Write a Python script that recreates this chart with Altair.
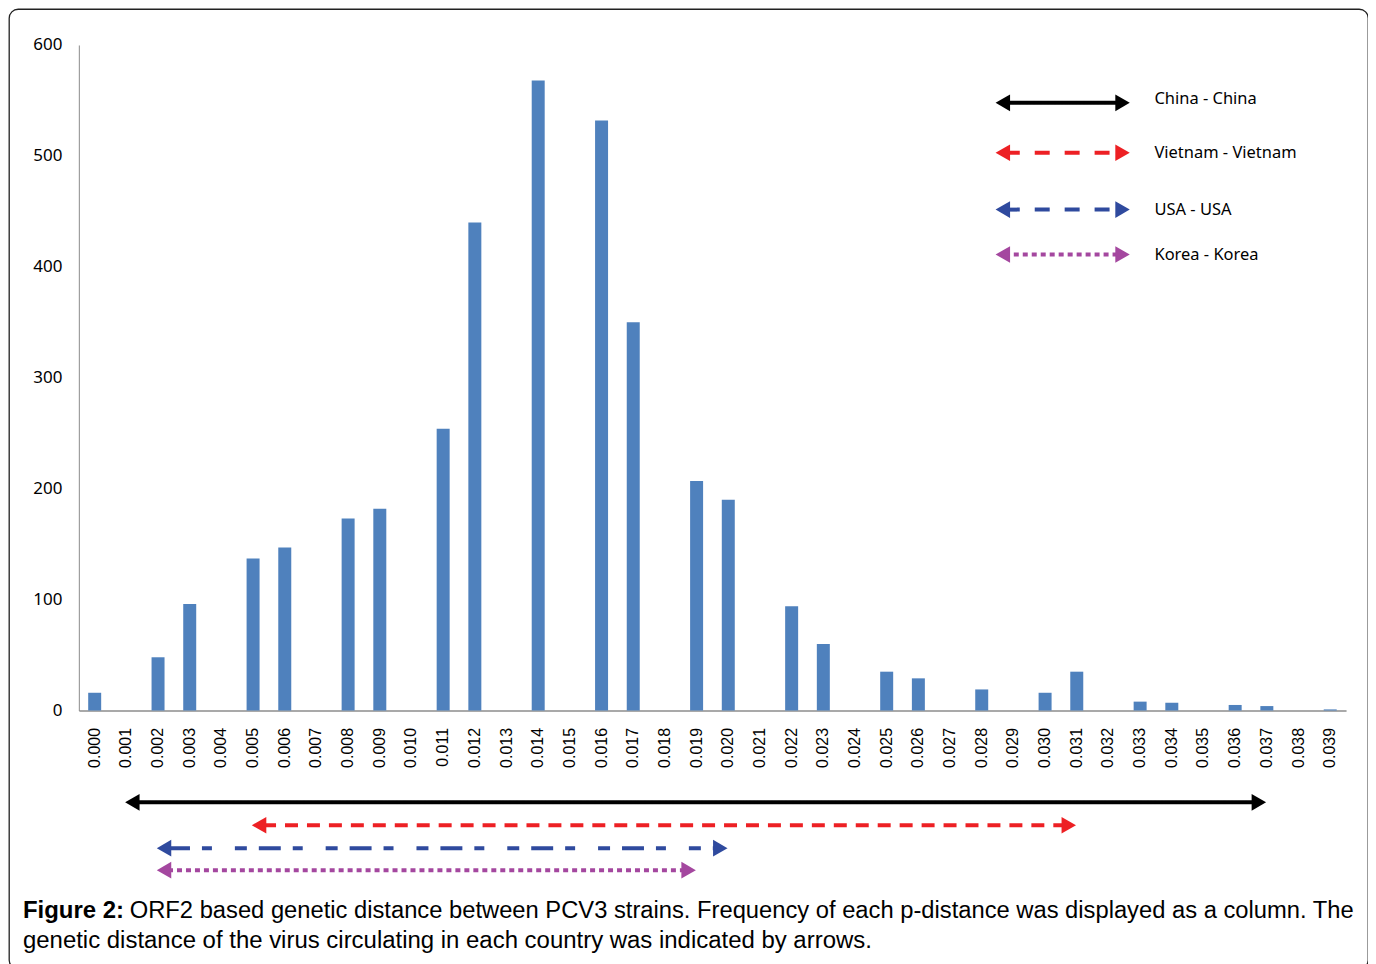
import altair as alt
import pandas as pd

# ---------------- data ----------------
categories = ["0.000", "0.001", "0.002", "0.003", "0.004", "0.005", "0.006", "0.007",
              "0.008", "0.009", "0.010", "0.011", "0.012", "0.013", "0.014", "0.015",
              "0.016", "0.017", "0.018", "0.019", "0.020", "0.021", "0.022", "0.023",
              "0.024", "0.025", "0.026", "0.027", "0.028", "0.029", "0.030", "0.031",
              "0.032", "0.033", "0.034", "0.035", "0.036", "0.037", "0.038", "0.039"]
frequency = [16, 0, 48, 96, 0, 137, 147, 0, 173, 182, 0, 254, 440, 0, 568, 0,
             532, 350, 0, 207, 190, 0, 94, 60, 0, 35, 29, 0, 19, 0, 16, 35,
             0, 8, 7, 0, 5, 4, 0, 1]

arrow_names = ["China - China", "Vietnam - Vietnam", "USA - USA", "Korea - Korea"]
arrow_start = ["0.001", "0.005", "0.002", "0.002"]
arrow_end = ["0.037", "0.031", "0.020", "0.019"]

caption_bold = "Figure 2:"
caption_line1 = "ORF2 based genetic distance between PCV3 strains. Frequency of each p-distance was displayed as a column. The"
caption_line2 = "genetic distance of the virus circulating in each country was indicated by arrows."

# ---------------- styles ----------------
arrow_colors = ["#000000", "#ED2024", "#2F4A9E", "#A4479F"]
arrow_dash = [[1, 0], [13, 9], [22, 12, 10, 23, 12, 12], [5, 4]]
legend_dash = [[1, 0], [15, 15], [15, 15], [5, 4]]
arrow_rows_y = [795, 818, 841, 863]
legend_rows_y = [94, 144, 201, 246]
legend_text_y = [90, 144, 201, 246]

W, H = 1362, 962
xscale = alt.Scale(domain=categories, range=[70, 1340], paddingInner=0.59, paddingOuter=0.295)
yscale = alt.Scale(domain=[0, 600], range=[703, 36], nice=False, zero=True)
xaxis = alt.Axis(title=None, orient="bottom", offset=-(H - 703), labelAngle=-90,
                 labelFont="Liberation Sans", labelFontSize=16, labelColor="#000",
                 labelPadding=17, ticks=False, domainColor="#8C8C8C",
                 domainWidth=1.5, labelAlign="right", labelBaseline="middle")

df = pd.DataFrame({"dist": categories, "freq": frequency})

bars = alt.Chart(df).mark_bar(color="#4F81BD").encode(
    x=alt.X("dist:N", sort=categories, scale=xscale, axis=xaxis),
    y=alt.Y("freq:Q", scale=yscale,
            axis=alt.Axis(title=None, orient="left", offset=-70, values=[0, 100, 200, 300, 400, 500, 600],
                          grid=False, ticks=False, labelFont="Noto Sans", labelFontSize=17,
                          labelColor="#000", labelPadding=17, domainColor="#8C8C8C", domainWidth=1)),
)

layers = [bars]
tri = 280
half = 8
for i, name in enumerate(arrow_names):
    d = pd.DataFrame({"name": [name], "start": [arrow_start[i]], "end": [arrow_end[i]]})
    base = alt.Chart(d)
    col = arrow_colors[i]
    yy = arrow_rows_y[i]
    xs = alt.X("start:N", scale=xscale, axis=xaxis, bandPosition=0.5)
    xe = alt.X("end:N", scale=xscale, axis=xaxis, bandPosition=0.5)
    shaft = base.mark_rule(color=col, strokeWidth=4, strokeDash=arrow_dash[i], strokeCap="butt",
                           xOffset=10, x2Offset=-10).encode(
        x=xs, x2=alt.X2("end:N"), y=alt.value(yy))
    lh = base.mark_point(shape="triangle-left", filled=True, opacity=1, color=col, size=tri,
                         xOffset=half - 2).encode(x=xs, y=alt.value(yy))
    rh = base.mark_point(shape="triangle-right", filled=True, opacity=1, color=col, size=tri,
                         xOffset=-half).encode(x=xe, y=alt.value(yy))
    ly = legend_rows_y[i]
    lshaft = base.mark_rule(color=col, strokeWidth=4, strokeDash=legend_dash[i], strokeCap="butt").encode(
        x=alt.value(998), x2=alt.value(1114), y=alt.value(ly))
    llh = base.mark_point(shape="triangle-left", filled=True, opacity=1, color=col, size=tri).encode(
        x=alt.value(988 + half), y=alt.value(ly))
    lrh = base.mark_point(shape="triangle-right", filled=True, opacity=1, color=col, size=tri).encode(
        x=alt.value(1124 - half), y=alt.value(ly))
    ltxt = base.mark_text(align="left", baseline="middle", font="Noto Sans", fontSize=16.5,
                          color="#000").encode(x=alt.value(1148), y=alt.value(legend_text_y[i]), text="name:N")
    layers += [shaft, lh, rh, lshaft, llh, lrh, ltxt]

cap = pd.DataFrame({"b": [caption_bold], "l1": [caption_line1], "l2": [caption_line2]})
cbase = alt.Chart(cap)
layers += [
    cbase.mark_text(align="left", baseline="alphabetic", font="Liberation Sans", fontSize=24,
                    fontWeight="bold", color="#000").encode(x=alt.value(14), y=alt.value(911), text="b:N"),
    cbase.mark_text(align="left", baseline="alphabetic", font="Liberation Sans", fontSize=23.8,
                    color="#000").encode(x=alt.value(121), y=alt.value(911), text="l1:N"),
    cbase.mark_text(align="left", baseline="alphabetic", font="Liberation Sans", fontSize=24,
                    color="#000").encode(x=alt.value(14), y=alt.value(941), text="l2:N"),
]

chart = alt.layer(*layers).properties(
    width=W, height=H, padding={"left": 1, "top": 0, "right": 0, "bottom": 0}, background="white"
).configure_view(stroke="#222222", strokeWidth=1.3, cornerRadius=9)

chart.save("out.html", embed_options={"renderer": "svg", "actions": False})
